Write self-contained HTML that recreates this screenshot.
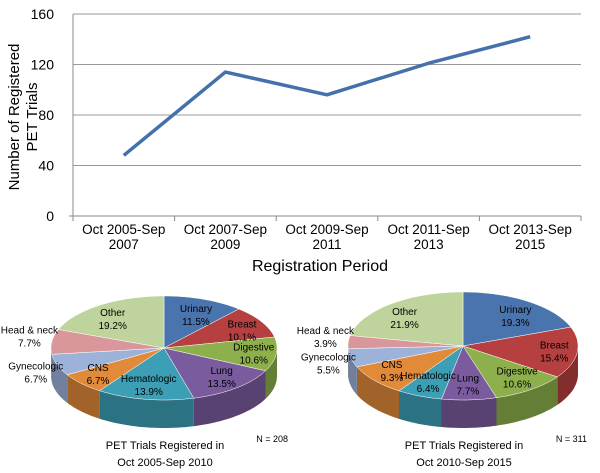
<!DOCTYPE html>
<html><head><meta charset="utf-8"><style>
body{margin:0;background:#fff;}
svg{display:block;font-family:"Liberation Sans",Arial,sans-serif;}
</style></head><body>
<svg id="c" width="600" height="473" viewBox="0 0 600 473"></svg>
<script>
const periods=[["Oct 2005-Sep","2007"],["Oct 2007-Sep","2009"],["Oct 2009-Sep","2011"],["Oct 2011-Sep","2013"],["Oct 2013-Sep","2015"]];
const trials=[48,114,96,121,142];
const yTicks=[0,40,80,120,160];
const pieCats=["Urinary","Breast","Digestive","Lung","Hematologic","CNS","Gynecologic","Head & neck","Other"];
const pieColors=["#4a74ae","#b5403f","#8db04c","#7a5c9e","#3c9fb6","#e08a3a","#9db2d9","#d9979b","#bfd49c"];
const pie1Values=[11.5,10.1,10.6,13.5,13.9,6.7,6.7,7.7,19.2];
const pie2Values=[19.3,15.4,10.6,7.7,6.4,9.3,5.5,3.9,21.9];
const NS="http://www.w3.org/2000/svg";
const svg=document.getElementById('c');
function el(t,a,p){const e=document.createElementNS(NS,t);for(const k in a)e.setAttribute(k,a[k]);(p||svg).appendChild(e);return e;}
function txt(s,x,y,size,anchor,p){const t=el('text',{x:x,y:y,'font-size':size,'text-anchor':anchor||'middle',fill:'#000'},p);t.textContent=s;return t;}
const X0=73,X1=581,Y0=216,Y1=14;
const yS=v=>Y0-(v/160)*(Y0-Y1);
const step=(X1-X0)/periods.length;
const xS=i=>X0+step*(i+0.5);
const lc=el('g',{});


yTicks.forEach(v=>{
 if(v>0){const g=el('line',{x1:X0,x2:X1,y1:yS(v),y2:yS(v),stroke:'#999','stroke-width':1},lc);
 }
 const t=txt(String(v),54,yS(v)+5,14,'end',lc);
 
});
const ax=el('line',{x1:X0,x2:X0,y1:Y1,y2:Y0+4,stroke:'#888'},lc);

const xa=el('line',{x1:X0-4,x2:X1,y1:Y0,y2:Y0,stroke:'#888'},lc);

for(let i=0;i<=periods.length;i++){const tk=el('line',{x1:X0+step*i,x2:X0+step*i,y1:Y0,y2:Y0+5,stroke:'#888'},lc);
 }
periods.forEach((p,i)=>{
 const t=txt(p[0],xS(i),234,13.5,'middle',lc);
 const t2=txt(p[1],xS(i),249,13.5,'middle',lc);
});
const pl=el('polyline',{points:trials.map((v,i)=>xS(i)+','+yS(v)).join(' '),fill:'none',stroke:'#4471ac','stroke-width':3.5,'stroke-linejoin':'round'},lc);

const yt=el('g',{transform:'translate(19,117) rotate(-90)'},lc);

txt('Number of Registered',0,0,15,'middle',yt);txt('PET Trials',0,18,15,'middle',yt);
const xt=txt('Registration Period',320,271,16,'middle',lc);

function shade(h,f){const n=parseInt(h.slice(1),16);const r=(n>>16)*f|0,g=((n>>8)&255)*f|0,b=(n&255)*f|0;return `rgb(${r},${g},${b})`;}
function pie(vals,cx,cy,rx,ry,d,name,title,nlab){
 const g=el('g',{});
 
 
 const tot=vals.reduce((a,b)=>a+b,0);
 const pt=(a,dy)=>[cx+rx*Math.cos(a),cy+ry*Math.sin(a)+(dy||0)];
 let acc=0;const sl=[];
 vals.forEach((v,i)=>{const a1=-Math.PI/2+acc/tot*2*Math.PI;acc+=v;const a2=-Math.PI/2+acc/tot*2*Math.PI;sl.push([a1,a2]);});
 sl.forEach(([a1,a2],i)=>{
  for(let k=0;k<2;k++){
   const lo=Math.max(a1,k*2*Math.PI),hi=Math.min(a2,Math.PI+k*2*Math.PI);
   if(hi<=lo)continue;
   let dd='';const N=30;
   for(let j=0;j<=N;j++){const a=lo+(hi-lo)*j/N;const p=pt(a);dd+=(j?'L':'M')+p[0].toFixed(1)+','+p[1].toFixed(1);}
   for(let j=N;j>=0;j--){const a=lo+(hi-lo)*j/N;const p=pt(a,d);dd+='L'+p[0].toFixed(1)+','+p[1].toFixed(1);}
   const s=el('path',{d:dd+'Z',fill:shade(pieColors[i],0.72)},g);
   
   
  }
 });
 sl.forEach(([a1,a2],i)=>{
  let dd='M'+cx+','+cy;const N=40;
  for(let j=0;j<=N;j++){const p=pt(a1+(a2-a1)*j/N);dd+='L'+p[0].toFixed(1)+','+p[1].toFixed(1);}
  const s=el('path',{d:dd+'Z',fill:pieColors[i],stroke:'#fff','stroke-width':0.5},g);
  
  
 });
 sl.forEach(([a1,a2],i)=>{
  const m=(a1+a2)/2;const out=(i===6||i===7);
  let x=cx+rx*(out?1.2:0.8)*Math.cos(m),y=cy+ry*(out?(i===7?1.0:1.4):0.7)*Math.sin(m)+(i===7?-6:0);
  const lg=el('g',{},g);
  
  
  txt(pieCats[i],x,y-2,10,'middle',lg);txt(vals[i].toFixed(1)+'%',x,y+11,10,'middle',lg);
 });
 const t1=txt(title[0],cx+1,449,11,'middle',g);
 txt(title[1],cx+1,466,11,'middle',g);
 const n=txt(nlab,cx+124,442,9,'end',g);
}
pie(pie1Values,164,348,113,52,28,'pie-2005-2010',['PET Trials Registered in','Oct 2005-Sep 2010'],'N = 208');
pie(pie2Values,463,346,115,54,28,'pie-2010-2015',['PET Trials Registered in','Oct 2010-Sep 2015'],'N = 311');
</script>
</body></html>
